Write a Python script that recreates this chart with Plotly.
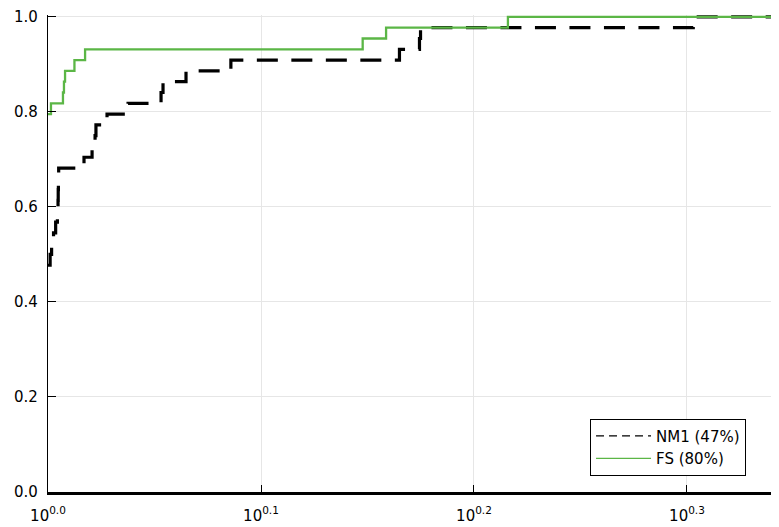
import plotly.graph_objects as go

# Performance profile data (ratio tau, fraction of problems solved)
n_problems = 44
nm1_tau = [1.0, 1.0023, 1.0039, 1.0060, 1.0083, 1.0102, 1.0109, 1.0111, 1.0113, 1.0116,
           1.0397, 1.0488, 1.0522, 1.0532, 1.0659, 1.0904, 1.1300, 1.1324, 1.1609, 1.2186,
           1.4622, 1.4942, 1.4959, 2.0088, 2.2040]
nm1_count = [21, 22, 23, 24, 25, 26, 27, 28, 29, 30,
             31, 32, 33, 34, 35, 36, 37, 38, 39, 40,
             41, 42, 43, 44, 44]
fs_tau = [1.0, 1.0032, 1.0163, 1.0174, 1.0186, 1.0290, 1.0409, 1.4052, 1.4412, 1.6441, 2.2040]
fs_count = [35, 36, 37, 38, 39, 40, 41, 42, 43, 44, 44]

nm1_frac = [c / n_problems for c in nm1_count]
fs_frac = [c / n_problems for c in fs_count]

names = ["NM1 (47%)", "FS (80%)"]
x_tickvals = [1.0, 10 ** 0.1, 10 ** 0.2, 10 ** 0.3]
x_ticktext = ["10<sup>0.0</sup>", "10<sup>0.1</sup>", "10<sup>0.2</sup>", "10<sup>0.3</sup>"]

black = "#000000"
green = "#5BB646"
font = "DejaVu Sans"

fig = go.Figure()
fig.add_trace(go.Scatter(x=nm1_tau, y=nm1_frac, mode="lines", line_shape="hv",
                         line=dict(color=black, width=3.2, dash="21px,13.5px"),
                         showlegend=False))
fig.add_trace(go.Scatter(x=fs_tau, y=fs_frac, mode="lines", line_shape="hv",
                         line=dict(color=green, width=2.3), showlegend=False))
# legend entries (thin lines as in the reference)
fig.add_trace(go.Scatter(x=[None], y=[None], mode="lines", name=names[0],
                         line=dict(color=black, width=1.3, dash="8px,5px")))
fig.add_trace(go.Scatter(x=[None], y=[None], mode="lines", name=names[1],
                         line=dict(color=green, width=1.3)))

# the page body adds an 8px offset, so the figure is sized to fill the rest
fig.update_layout(
    width=771, height=519,
    margin=dict(l=40, r=0, t=7, b=35),
    paper_bgcolor="white", plot_bgcolor="white",
    font=dict(family=font, size=15, color="black"),
    xaxis=dict(type="log", range=[0, 0.3432], tickvals=x_tickvals, ticktext=x_ticktext,
               showgrid=True, gridcolor="#e6e6e6", gridwidth=1,
               showline=True, linecolor="black", linewidth=2.5,
               ticks="inside", ticklen=7, tickcolor="black", tickwidth=1,
               zeroline=False, tickfont=dict(size=15), ticklabelstandoff=8,
               automargin=False),
    yaxis=dict(range=[0, 1.004], tickvals=[0, 0.2, 0.4, 0.6, 0.8, 1.0],
               ticktext=["0.0", "0.2", "0.4", "0.6", "0.8", "1.0"],
               showgrid=True, gridcolor="#e6e6e6", gridwidth=1,
               showline=True, linecolor="black", linewidth=1.3,
               ticks="inside", ticklen=8, tickcolor="black", tickwidth=1,
               zeroline=False, tickfont=dict(size=15), ticklabelstandoff=6,
               automargin=False),
    legend=dict(x=0.7415, y=0.154, xanchor="left", yanchor="top",
                bordercolor="black", borderwidth=1, bgcolor="white",
                font=dict(size=15), itemwidth=55, tracegroupgap=0),
)

fig.write_html("out.html")
